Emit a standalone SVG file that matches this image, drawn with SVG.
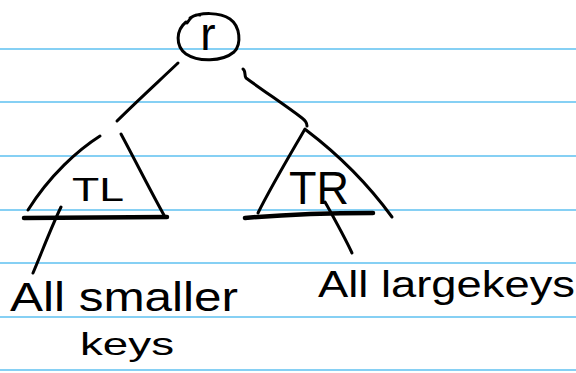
<svg xmlns="http://www.w3.org/2000/svg" width="576" height="373" viewBox="0 0 576 373">
  <style>
    .rule { stroke: #86d0f4; stroke-width: 2; }
    .ink { fill: none; stroke: #000; stroke-linecap: round; stroke-linejoin: round; stroke-width: 3; }
    .heavy { stroke-width: 4.5; }
    .hand { font-family: "Liberation Sans", "DejaVu Sans", sans-serif; fill: #000; }
  </style>

  <!-- ruled paper -->
  <rect width="576" height="373" fill="#fff"/>
  <g id="paper">
    <line class="rule" x1="0" y1="49" x2="576" y2="49"/>
    <line class="rule" x1="0" y1="102" x2="576" y2="102"/>
    <line class="rule" x1="0" y1="156" x2="576" y2="156"/>
    <line class="rule" x1="0" y1="210" x2="576" y2="210"/>
    <line class="rule" x1="0" y1="263" x2="576" y2="263"/>
    <line class="rule" x1="0" y1="317" x2="576" y2="317"/>
    <line class="rule" x1="0" y1="370" x2="576" y2="370"/>
  </g>

  <!-- root node -->
  <g id="node-r">
    <path class="ink" d="M186,22 C176,30 175,46 186,54 C198,62 222,62 234,52 C242,44 240,26 230,19 C220,12 200,12 190,18 M187,23 C190,18 195,14 200,15"/>
    <text class="hand" x="208" y="50" font-size="46" text-anchor="middle">r</text>
  </g>

  <!-- left subtree -->
  <g id="node-TL">
    <path class="ink" d="M100,136 C78,150 50,175 28,210"/>
    <path class="ink" d="M121,134 C135,160 150,190 165,217"/>
    <path class="ink heavy" d="M24,218 L167,217"/>
    <text class="hand" x="72" y="201" font-size="33" textLength="52" lengthAdjust="spacingAndGlyphs">TL</text>
  </g>

  <!-- right subtree -->
  <g id="node-TR">
    <path class="ink" d="M305,129 C290,155 272,185 258,213"/>
    <path class="ink" d="M306,130 C335,152 365,180 392,217"/>
    <path class="ink heavy" d="M245,218 C290,214 330,213 373,213"/>
    <text class="hand" x="289" y="204" font-size="46" textLength="60" lengthAdjust="spacingAndGlyphs">TR</text>
  </g>

  <!-- edges and pointers -->
  <g id="connectors">
    <path class="ink" d="M178,63 C158,82 136,102 117,121"/>
    <path class="ink" d="M243,69 C246,71 244,75 246,78 C265,92 285,105 302,118 C306,121 307,124 307,126"/>
    <path class="ink" d="M61,207 C50,230 42,252 33,273"/>
    <path class="ink" d="M325,202 C335,220 344,236 352,253"/>
  </g>

  <!-- labels -->
  <g id="label-smaller">
    <text class="hand" x="10" y="311" font-size="40" textLength="228" lengthAdjust="spacingAndGlyphs">All smaller</text>
    <text class="hand" x="80" y="355" font-size="32" textLength="94" lengthAdjust="spacingAndGlyphs">keys</text>
  </g>
  <g id="label-larger">
    <text class="hand" x="318" y="297" font-size="36" textLength="257" lengthAdjust="spacingAndGlyphs">All largekeys</text>
  </g>
</svg>
